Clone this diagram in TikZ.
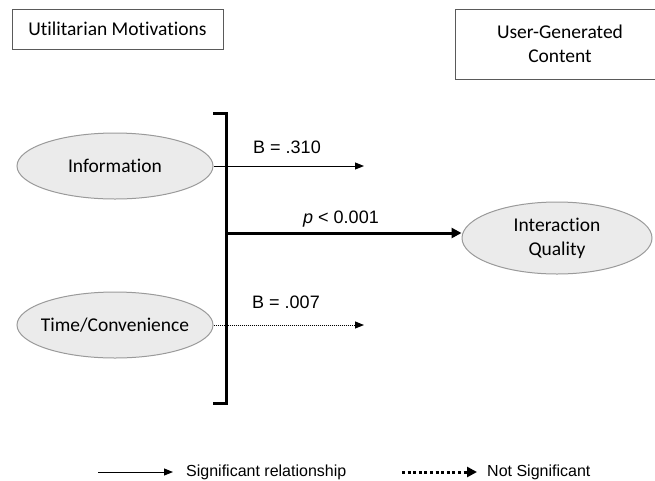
\documentclass[tikz,border=0pt]{standalone}
\usepackage{fontspec}
\setmainfont{Carlito}[Ligatures={NoCommon}]
\newfontfamily\arialfont{Liberation Sans}
\usetikzlibrary{shapes.geometric,arrows.meta}
\definecolor{ellfill}{HTML}{EBEBEB}
\definecolor{ellline}{HTML}{9A9A9A}
\definecolor{boxline}{HTML}{5A5A5A}
\begin{document}
\begin{tikzpicture}[x=1pt,y=-1pt,
  labelbox/.style={draw=boxline,line width=1pt,inner sep=0pt,align=center,
    font=\fontsize{19.5}{24}\selectfont},
  construct/.style={ellipse,draw=ellline,fill=ellfill,line width=1pt,
    inner xsep=-10pt,inner ysep=0pt,
    align=center,font=\fontsize{19.5}{24}\selectfont},
  coef/.style={inner sep=0pt,font=\arialfont\fontsize{18}{21}\selectfont},
  legendtext/.style={inner sep=0pt,anchor=west,font=\arialfont\fontsize{16}{19}\selectfont},
  thinarrow/.style={line width=1pt,-{Triangle[length=9pt,width=7pt]}},
  dotarrow/.style={line width=1pt,dash pattern=on 1pt off 1pt,-{Triangle[length=9pt,width=7pt]}},
  thickarrow/.style={line width=3pt,-{Triangle[length=10pt,width=10pt]}},
  bracketline/.style={line width=3pt,line cap=butt,line join=miter},
  legenddots/.style={line width=3pt,dash pattern=on 3pt off 2.6pt,-{Triangle[length=10pt,width=10pt]}}
]
\useasboundingbox (0,0) rectangle (655,480);

% header boxes
\node[labelbox,minimum width=211pt,minimum height=40pt] (um) at (117.5,29) {Utilitarian Motivations};
\node[labelbox,minimum width=210pt,minimum height=70pt] (ugc) at (560,44) {User-Generated\\Content};

% constructs
\node[construct,minimum width=196pt,minimum height=66pt] (info) at (115,166) {Information};
\node[construct,minimum width=196pt,minimum height=66pt] (time) at (115,325) {Time/Convenience};
\node[construct,minimum width=190pt,minimum height=72pt] (iq) at (557,238) {Interaction\\Quality};

% bracket grouping the motivations
\coordinate (brTopL) at (213,113);
\coordinate (brTopR) at (226,113);
\coordinate (brBotR) at (226,403);
\coordinate (brBotL) at (213,403);
\draw[bracketline] (brTopL) -- (brTopR) -- (brBotR) -- (brBotL);

% paths
\coordinate (infoEnd) at (364,166);
\coordinate (timeEnd) at (364,325);
\coordinate (midStart) at (226,233);
\draw[thinarrow] (info.east) -- (infoEnd);
\draw[dotarrow] (time.east) -- (timeEnd);
\draw[thickarrow] (midStart) -- (midStart -| iq.west);

\node[coef] (b1) at (287,147) {B = .310};
\node[coef] (pv) at (341,219) {\textit{p} < 0.001};
\node[coef] (b2) at (286,302) {B = .007};

% legend
\coordinate (sigA) at (98,472);
\coordinate (sigB) at (173,472);
\coordinate (nsA) at (402,472);
\coordinate (nsB) at (477,472);
\draw[thinarrow] (sigA) -- (sigB);
\draw[legenddots] (nsA) -- (nsB);
\node[legendtext] (sigT) at (186,472) {Significant relationship};
\node[legendtext] (nsT) at (487,472) {Not Significant};
\end{tikzpicture}
\end{document}
